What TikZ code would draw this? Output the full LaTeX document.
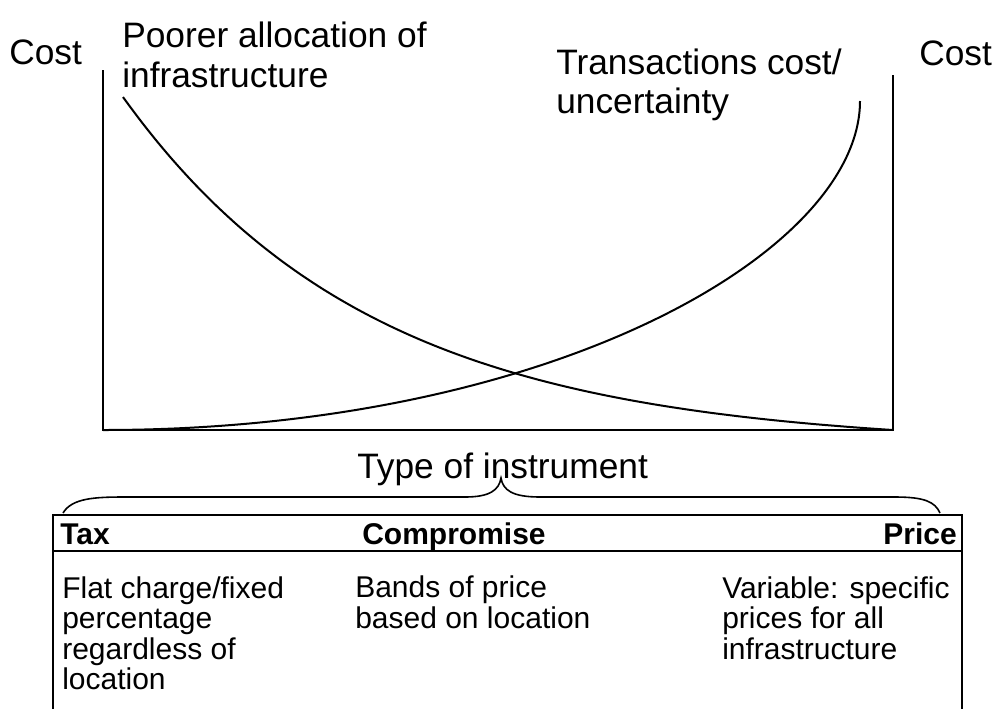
\documentclass[tikz,border=0pt]{standalone}
\usepackage{fontspec}
\setmainfont{Liberation Sans}
\begin{document}
\begin{tikzpicture}[x={(0.75pt,0)}, y={(0,-0.75pt)},
  lbl/.style={anchor=base west, inner sep=0pt, font=\fontsize{26.5}{31}\selectfont},
  cell/.style={anchor=base west, inner sep=0pt, font=\fontsize{22.5}{26}\selectfont},
  head/.style={cell, font=\fontsize{22.5}{26}\selectfont\bfseries},
  axis/.style={line width=1.7pt, line join=miter},
  curve/.style={line width=1.5pt},
  rule/.style={line width=2.2pt, line cap=rect}]
\useasboundingbox (0,0) rectangle (1000,708);

% axes: two cost axes joined by the instrument axis
\draw[axis] (103,70) -- (103,430) -- (893,430) -- (893,75);

% falling cost: poorer allocation of infrastructure
\draw[curve] plot[domain=123:893, samples=120, smooth]
  (\x, {430 - 349*(exp(-0.004*(\x-123)) - 0.046)});

% rising cost: transactions cost / uncertainty
\draw[curve] (103,430) .. controls (553,430) and (860,251) .. (860,101);

% axis titles and curve labels
\node[lbl] (costL) at (9,64) {Cost};
\node[lbl] (costR) at (919,65) {Cost};
\node[lbl] (poor1) at (122,47) {Poorer allocation of};
\node[lbl] (poor2) at (122,87) {infrastructure};
\node[lbl] (trans1) at (556,74) {Transactions cost/};
\node[lbl] (trans2) at (556,113) {uncertainty};
\node[lbl] (type) at (357,478) {Type of instrument};

% brace over the table
\draw[line width=1.2pt] (63,513) .. controls (72,498) and (95,497) .. (125,497)
  -- (465,497) .. controls (490,497) and (499,490) .. (501,478)
  .. controls (503,490) and (512,497) .. (540,497)
  -- (895,497) .. controls (925,497) and (935,502) .. (940,513);

% table frame
\draw[rule] (53,708) -- (53,515) -- (962,515) -- (962,708);
\draw[rule] (53,551) -- (962,551);

% header row
\node[head] (tax) at (60,544) {Tax};
\node[head] (comp) at (362,544) {Compromise};
\node[head, anchor=base east] (price) at (957,544) {Price};

% description cells
\node[cell] (t1) at (62,598) {Flat charge/fixed};
\node[cell] (t2) at (62,628.5) {percentage};
\node[cell] (t3) at (62,659) {regardless of};
\node[cell] (t4) at (62,689.5) {location};
\node[cell] (c1) at (355,597) {Bands of price};
\node[cell] (c2) at (355,628) {based on location};
\node[cell] (p1) at (722,598) {Variable: specific};
\node[cell] (p2) at (722,628.5) {prices for all};
\node[cell] (p3) at (722,659) {infrastructure};
\end{tikzpicture}
\end{document}
